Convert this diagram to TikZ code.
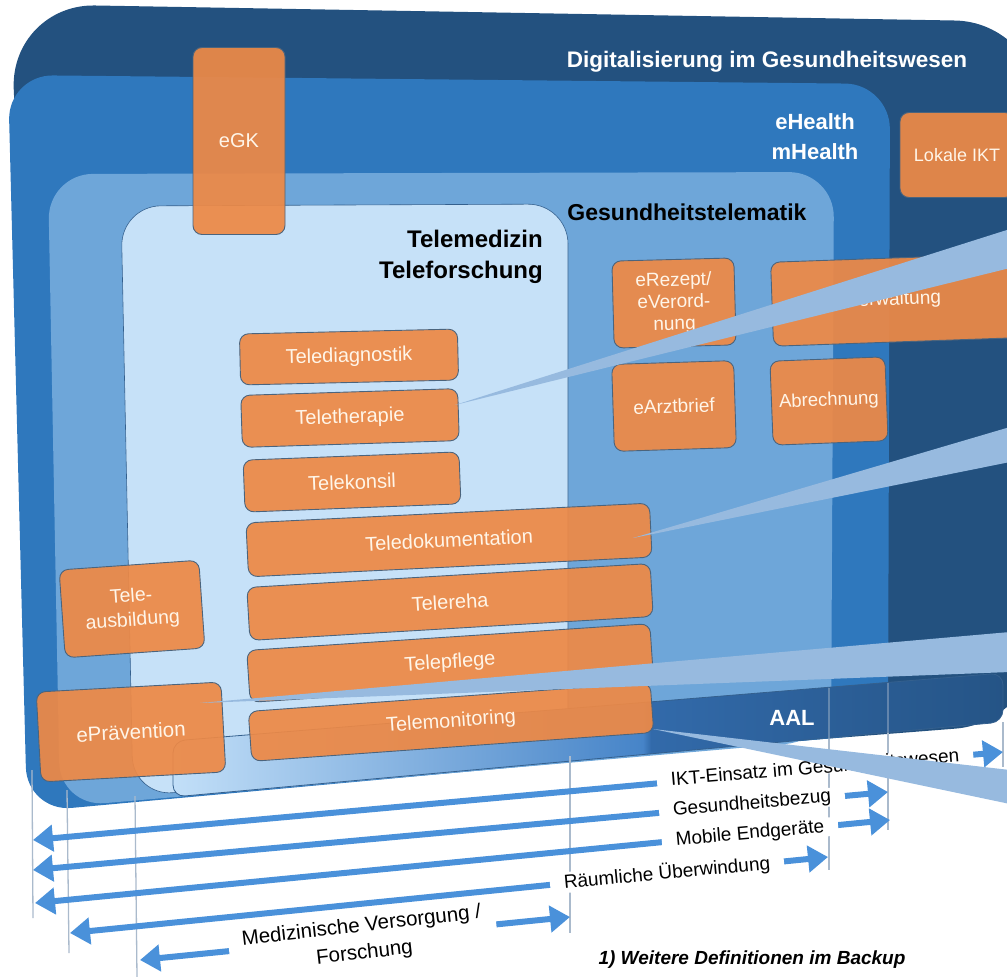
\documentclass[tikz,border=0pt]{standalone}
\usepackage{fontspec}
\setmainfont{Liberation Sans}
\usetikzlibrary{arrows.meta}
\definecolor{cDig}{RGB}{35,81,127}
\definecolor{cEH}{RGB}{47,120,189}
\definecolor{cGT}{RGB}{110,166,217}
\definecolor{cTM}{RGB}{198,225,248}
\definecolor{orng}{RGB}{237,137,70}
\definecolor{oline}{RGB}{75,100,125}
\definecolor{otext}{RGB}{255,245,232}
\definecolor{rayc}{RGB}{151,186,223}
\definecolor{arrc}{RGB}{74,145,218}
\definecolor{guide}{RGB}{170,186,204}
\definecolor{edgec}{RGB}{52,96,142}
\definecolor{aalL}{RGB}{194,223,248}
\definecolor{aalM}{RGB}{70,132,200}
\definecolor{barL}{RGB}{50,106,170}
\definecolor{barR}{RGB}{37,84,134}
% light band on the left turning into the dark AAL bar on the right
\pgfdeclarehorizontalshading{aalband}{100bp}{%
  color(0bp)=(aalL); color(25bp)=(aalL); color(53.3bp)=(aalM);
  color(53.8bp)=(barL); color(75bp)=(barR); color(100bp)=(barR)}

\begin{document}
\begin{tikzpicture}[x=1pt,y=-1pt,
  obox/.style={draw=oline, line width=0.9pt, fill=orng, fill opacity=0.93,
    text opacity=1, rounded corners=9pt, text=otext,
    font=\fontsize{20}{22}\selectfont, align=center, inner sep=0pt},
  ray/.style={fill=rayc},
  span/.style={draw=arrc, line width=6pt,
    {Triangle[width=26pt,length=20pt]}-{Triangle[width=26pt,length=20pt]}},
  spanlabel/.style={fill=white, text=black, font=\fontsize{19}{23}\selectfont,
    inner xsep=14pt, inner ysep=0.5pt, align=center},
  guideline/.style={draw=guide, line width=1.3pt},
  head/.style={align=center, inner sep=0pt}
]
\useasboundingbox (0,0) rectangle (1007,977);
\clip (0,0) rectangle (1007,977);

% nested domains
\fill[cDig, rounded corners=85] (10,4) -- (1040,22) -- (1040,722) -- (45,800) -- cycle;
\fill[cEH, rounded corners=45] (8,75) -- (890,84) -- (888,733) -- (27,812) -- cycle;
\fill[cGT, rounded corners=45] (48,174) -- (834,172) -- (831,740) -- (60,807) -- cycle;
\filldraw[fill=cTM, draw=edgec, line width=0.6pt, rounded corners=40]
  (121,206) -- (568,204) -- (568,760) -- (133,796) -- cycle;

% AAL band along the bottom
\shadedraw[shading=aalband, draw=edgec, line width=0.8pt, rounded corners=12]
  (173,741) -- (1003,673) -- (1003,722) -- (173,797) -- cycle;

% guide lines below the domains
\draw[guideline] (32,770) -- (33,918);
\draw[guideline] (67,790) -- (69,953);
\draw[guideline] (135,796) -- (137,977);
\draw[guideline] (570,756) -- (570,933);
\draw[guideline, opacity=0.45] (829,688) -- (829,739);
\draw[guideline] (829,739) -- (829,870);
\draw[guideline, opacity=0.45] (888,683) -- (888,733);
\draw[guideline] (888,733) -- (888,830);
\draw[guideline] (1003,722) -- (1003,767);

% headings
\node[head, text=white, font=\bfseries\fontsize{22.5}{26}\selectfont] (tdig) at (767,62) {Digitalisierung im Gesundheitswesen};
\node[head, text=white, font=\bfseries\fontsize{22}{30}\selectfont] (teh) at (815,137) {eHealth\\mHealth};
\node[head, text=black, font=\bfseries\fontsize{23}{26}\selectfont] (tgt) at (687,212) {Gesundheitstelematik};
\node[head, text=black, align=right, anchor=east, font=\bfseries\fontsize{24}{31}\selectfont] (ttm) at (543,257) {Telemedizin\\Teleforschung};
\node[head, text=white, font=\bfseries\fontsize{22}{26}\selectfont] (taal) at (792,718) {AAL};

% application boxes
\node[obox, minimum width=92pt, minimum height=187pt] (egk) at (239,141) {eGK};
\node[obox, minimum width=114pt, minimum height=85pt, font=\fontsize{18}{22}\selectfont] (lokal) at (957,155) {Lokale IKT};
\node[obox, minimum width=122pt, minimum height=87pt, rotate=1.5, font=\fontsize{19}{22}\selectfont] (erez) at (674,303) {eRezept/\\eVerord-\\nung};
\node[obox, minimum width=244pt, minimum height=84pt, rotate=2, font=\fontsize{19}{22}\selectfont] (verw) at (894,300) {Verwaltung};
\node[obox, minimum width=122pt, minimum height=87pt, rotate=1.8, font=\fontsize{19}{22}\selectfont] (earzt) at (674,406) {eArztbrief};
\node[obox, minimum width=115pt, minimum height=84pt, rotate=2.2, font=\fontsize{18.5}{22}\selectfont] (abr) at (829,401) {Abrechnung};
\node[obox, minimum width=218pt, minimum height=51pt, rotate=1.3] (tdiag) at (349,357) {Telediagnostik};
\node[obox, minimum width=217pt, minimum height=52pt, rotate=1.8] (tther) at (350,418) {Teletherapie};
\node[obox, minimum width=216pt, minimum height=52pt, rotate=2.2] (tkons) at (352,482) {Telekonsil};
\node[obox, minimum width=404pt, minimum height=54pt, rotate=2.8] (tdok) at (449,540) {Teledokumentation};
\node[obox, minimum width=404pt, minimum height=53pt, rotate=3.4] (treha) at (450,602) {Telereha};
\node[obox, minimum width=404pt, minimum height=52pt, rotate=3.8] (tpfl) at (450,663) {Telepflege};
\node[obox, minimum width=403pt, minimum height=50pt, rotate=4.1] (tmon) at (451,722) {Telemonitoring};
\node[obox, minimum width=140pt, minimum height=88pt, rotate=4, font=\fontsize{19.5}{24}\selectfont] (tausb) at (132,609) {Tele-\\ausbildung};
\node[obox, minimum width=185pt, minimum height=90pt, rotate=3.1, font=\fontsize{20.5}{24}\selectfont] (eprev) at (131,732) {ePrävention};

% scope arrows
\coordinate (a1l) at (33,840);  \coordinate (a1r) at (1003,752);
\coordinate (a2l) at (33,870);  \coordinate (a2r) at (888,792);
\coordinate (a3l) at (35,903);  \coordinate (a3r) at (890,820);
\coordinate (a4l) at (70,933);  \coordinate (a4r) at (828,857);
\coordinate (a5l) at (140,960); \coordinate (a5r) at (570,917);
\draw[span] (a1l) -- (a1r);
\draw[span] (a2l) -- (a2r);
\draw[span] (a3l) -- (a3r);
\draw[span] (a4l) -- (a4r);
\draw[span] (a5l) -- (a5r);

\node[spanlabel, rotate=4.8] (l1) at (815,767) {IKT-Einsatz im Gesundheitswesen};
\node[spanlabel, rotate=5] (l2) at (752,804) {Gesundheitsbezug};
\node[spanlabel, rotate=5.2] (l3) at (750,834) {Mobile Endgeräte};
\node[spanlabel, rotate=5.4] (l4) at (667,873) {Räumliche Überwindung};
\node[spanlabel, rotate=6.5, font=\fontsize{20.5}{27}\selectfont] (l5) at (363,940) {Medizinische Versorgung /\\Forschung};

\node[font=\bfseries\itshape\fontsize{19}{22}\selectfont] (fn) at (752,960) {1) Weitere Definitionen im Backup};

% callout rays to the right margin
\coordinate (r1t) at (455,405); \coordinate (r1a) at (1010,229); \coordinate (r1b) at (1010,268);
\coordinate (r2t) at (633,538); \coordinate (r2a) at (1010,427); \coordinate (r2b) at (1010,462);
\coordinate (r3t) at (200,703); \coordinate (r3a) at (1010,632); \coordinate (r3b) at (1010,672);
\coordinate (r4t) at (653,729); \coordinate (r4a) at (1010,770); \coordinate (r4b) at (1010,804);
\fill[ray] (r1t) -- (r1a) -- (r1b) -- cycle;
\fill[ray] (r2t) -- (r2a) -- (r2b) -- cycle;
\fill[ray] (r3t) -- (r3a) -- (r3b) -- cycle;
\fill[ray] (r4t) -- (r4a) -- (r4b) -- cycle;
\end{tikzpicture}
\end{document}
